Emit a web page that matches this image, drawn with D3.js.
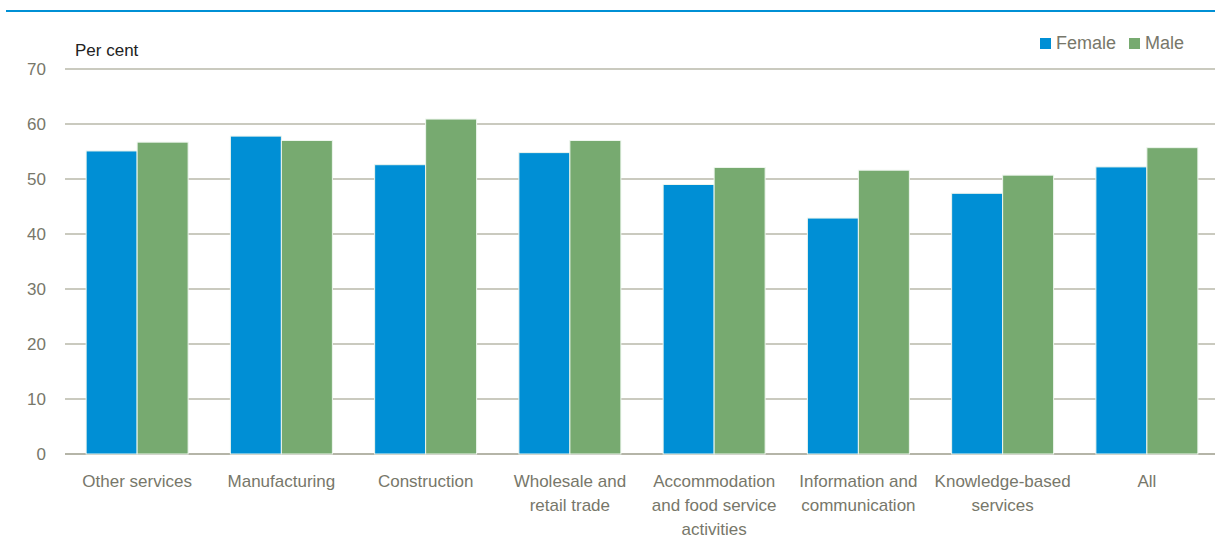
<!DOCTYPE html>
<html>
<head>
<meta charset="utf-8">
<script src="https://cdn.jsdelivr.net/npm/d3@7"></script>
<style>
  body { margin: 0; background: #fff; }
  svg text { font-family: "Liberation Sans Narrow", "Arial Narrow", "Liberation Sans", sans-serif; }
</style>
</head>
<body>
<script>
// categories and values
var categories = [
  ["Other services"],
  ["Manufacturing"],
  ["Construction"],
  ["Wholesale and", "retail trade"],
  ["Accommodation", "and food service", "activities"],
  ["Information and", "communication"],
  ["Knowledge-based", "services"],
  ["All"]
];
var female = [55.1, 57.8, 52.6, 54.8, 49.0, 42.9, 47.4, 52.2];
var male   = [56.7, 57.0, 60.9, 57.0, 52.1, 51.6, 50.7, 55.7];
var series = ["Female", "Male"];
var yTicks = [0, 10, 20, 30, 40, 50, 60, 70];

(function(){
  var width = 1215, height = 545;
  var colors = {Female: "#008fd5", Male: "#77aa70"};

  var svg = d3.select("body").append("svg")
    .attr("width", width)
    .attr("height", height);

  // blue rule on top
  svg.append("line")
    .attr("x1", 6).attr("x2", width)
    .attr("y1", 11).attr("y2", 11)
    .attr("stroke", "#0090d5")
    .attr("stroke-width", 2);

  var x = d3.scaleBand()
    .domain(d3.range(categories.length))
    .range([65, 1219])
    .paddingInner(0.293)
    .paddingOuter(0.1465);
  var x1 = d3.scaleBand()
    .domain(series)
    .range([0, x.bandwidth()]);
  var y = d3.scaleLinear()
    .domain([0, 70])
    .range([454, 69]);

  // gridlines
  svg.selectAll(".grid")
    .data(yTicks)
    .enter()
    .append("line")
    .attr("class", "grid")
    .attr("x1", 65).attr("x2", width)
    .attr("y1", function(d){ return y(d); })
    .attr("y2", function(d){ return y(d); })
    .attr("stroke", function(d){ return d == 0 ? "#b5b5a8" : "#b9b9aa"; })
    .attr("stroke-width", function(d){ return d == 0 ? 2 : 1.3; });

  // y tick labels
  svg.selectAll(".ytick")
    .data(yTicks)
    .enter()
    .append("text")
    .attr("class", "ytick")
    .attr("x", 46)
    .attr("y", function(d){ return y(d); })
    .attr("dy", "0.35em")
    .attr("text-anchor", "end")
    .attr("fill", "#77776a")
    .style("font-size", "17px")
    .text(function(d){ return d; });

  svg.append("text")
    .attr("x", 75).attr("y", 56)
    .attr("fill", "#222")
    .style("font-size", "17px")
    .text("Per cent");

  // bars
  var groups = svg.selectAll(".cat")
    .data(categories)
    .enter()
    .append("g")
    .attr("class", "cat")
    .attr("transform", function(d, i){ return "translate(" + x(i) + ",0)"; });

  groups.selectAll("rect")
    .data(function(d, i){
      return [{s: "Female", v: female[i]}, {s: "Male", v: male[i]}];
    })
    .enter()
    .append("rect")
    .attr("x", function(d){ return x1(d.s); })
    .attr("width", x1.bandwidth())
    .attr("y", function(d){ return y(d.v); })
    .attr("height", function(d){ return y(0) - y(d.v); })
    .attr("fill", function(d){ return colors[d.s]; })
    .attr("stroke", "#eef6ee")
    .attr("stroke-width", 1);

  // category labels
  groups.append("text")
    .attr("text-anchor", "middle")
    .attr("fill", "#77776a")
    .style("font-size", "17px")
    .selectAll("tspan")
    .data(function(d){ return d; })
    .enter()
    .append("tspan")
    .attr("x", x.bandwidth() / 2)
    .attr("y", function(d, j){ return 487 + j * 24; })
    .text(function(d){ return d; });

  // legend
  var legend = svg.selectAll(".legend")
    .data(series)
    .enter()
    .append("g")
    .attr("class", "legend")
    .attr("transform", function(d, i){ return "translate(" + (1040 + i * 89) + ",38)"; });
  legend.append("rect")
    .attr("width", 11).attr("height", 11)
    .attr("fill", function(d){ return colors[d]; });
  legend.append("text")
    .attr("x", 16).attr("y", 11)
    .attr("fill", "#77776a")
    .style("font-size", "18px")
    .text(function(d){ return d; });
})();
</script>
</body>
</html>
